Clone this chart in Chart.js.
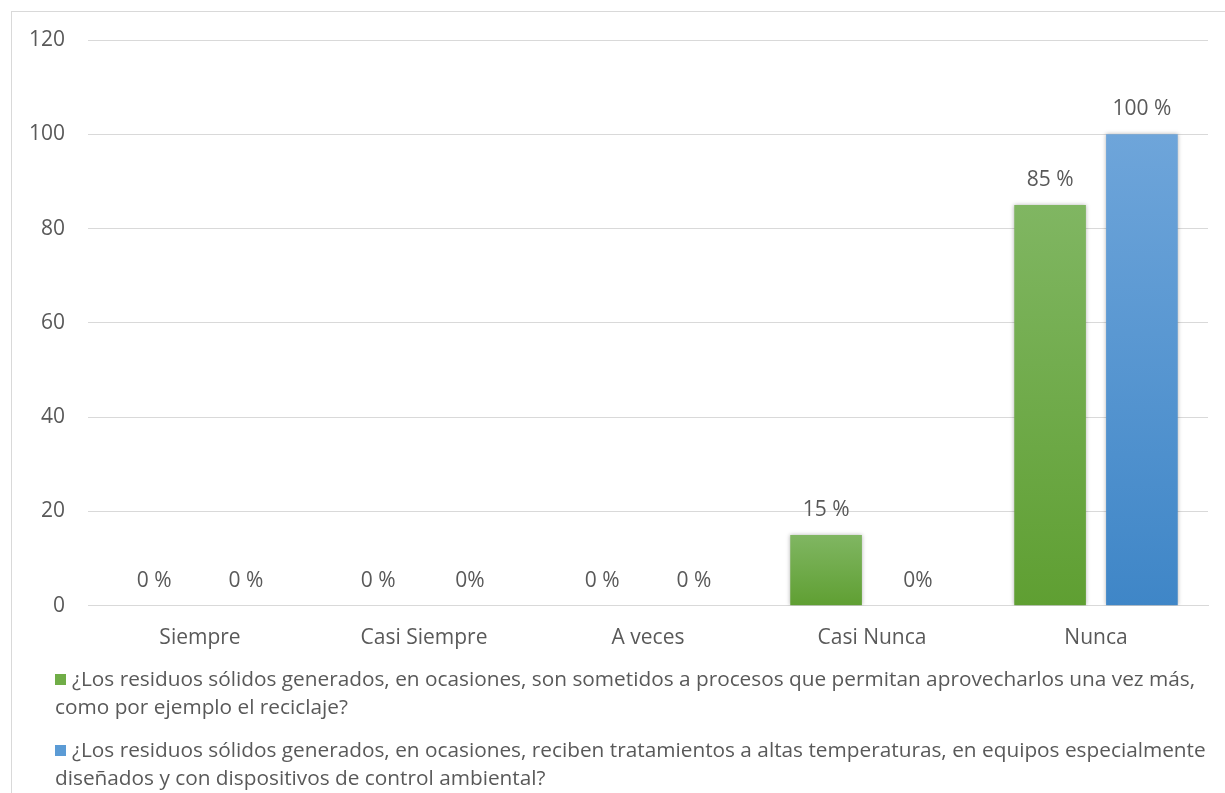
<!DOCTYPE html>
<html>
<head>
<meta charset="utf-8">
<script src="https://cdn.jsdelivr.net/npm/chart.js@4/dist/chart.umd.min.js"></script>
<style>
  html, body { margin: 0; padding: 0; background: #fff; overflow: hidden; }
  #wrap { position: relative; width: 1225px; height: 793px; }
  #frame { position: absolute; left: 11px; top: 11px; width: 1240px; height: 800px; border: 1px solid #d9d9d9; box-sizing: border-box; }
  canvas { position: absolute; left: 0; top: 0; }
  #legend { position: absolute; left: 55px; top: 664px; font-family: "Open Sans", sans-serif; font-size: 20.8px; color: #595959; }
  #legend p { margin: 0 0 15px 0; line-height: 28px; white-space: nowrap; }
  #legend span.box { display: inline-block; width: 11px; height: 11px; margin-right: 6px; vertical-align: 1px; }
</style>
</head>
<body>
<div id="wrap">
  <div id="frame"></div>
  <canvas id="barCanvas" width="1225" height="793"></canvas>
  <div id="legend"></div>
</div>
<script>
// données
const categories = ["Siempre", "Casi Siempre", "A veces", "Casi Nunca", "Nunca"];
const serieReciclaje = [0, 0, 0, 15, 85];
const serieTratamiento = [0, 0, 0, 0, 100];
const etiquetasReciclaje = ["0 %", "0 %", "0 %", "15 %", "85 %"];
const etiquetasTratamiento = ["0 %", "0%", "0 %", "0%", "100 %"];
const nomsSeries = [
    ["¿Los residuos sólidos generados, en ocasiones, son sometidos a procesos que permitan aprovecharlos una vez más,", "como por ejemplo el reciclaje?"],
    ["¿Los residuos sólidos generados, en ocasiones, reciben tratamientos a altas temperaturas, en equipos especialmente", "diseñados y con dispositivos de control ambiental?"]
];
const yTicks = [0, 20, 40, 60, 80, 100, 120];

const textColor = "#595959";
const police = "'Open Sans', sans-serif";

// dégradé vertical pour chaque barre
function degrade(haut, bas) {
    return function(context) {
        const chart = context.chart;
        const y = chart.scales.y;
        if (!y || context.raw === undefined) return bas;
        const top = y.getPixelForValue(context.raw);
        const base = y.getPixelForValue(0);
        if (!isFinite(top) || !isFinite(base) || base - top < 1) return bas;
        const g = chart.ctx.createLinearGradient(0, top, 0, base);
        g.addColorStop(0, haut);
        g.addColorStop(1, bas);
        return g;
    };
}

// ombre légère sous les barres
const ombre = {
    id: "ombre",
    beforeDatasetsDraw(chart) {
        const ctx = chart.ctx;
        ctx.save();
        ctx.shadowColor = "rgba(0,0,0,0.3)";
        ctx.shadowBlur = 4;
    },
    afterDatasetsDraw(chart) {
        chart.ctx.restore();
    }
};

// étiquettes au-dessus des barres
const etiquettes = {
    id: "etiquettes",
    afterDatasetsDraw(chart) {
        const ctx = chart.ctx;
        ctx.save();
        ctx.font = "21px " + police;
        ctx.fillStyle = textColor;
        ctx.textAlign = "center";
        ctx.textBaseline = "middle";
        chart.data.datasets.forEach((ds, i) => {
            const meta = chart.getDatasetMeta(i);
            meta.data.forEach((bar, j) => {
                ctx.fillText(ds.etiquettes[j], bar.x, bar.y - 25);
            });
        });
        ctx.restore();
    }
};

const barChart = new Chart(document.getElementById("barCanvas"), {
    type: "bar",
    data: {
        labels: categories,
        datasets: [{
            label: nomsSeries[0].join(" "),
            data: serieReciclaje,
            etiquettes: etiquetasReciclaje,
            backgroundColor: degrade("#80b662", "#5f9f32"),
            borderWidth: 0
        }, {
            label: nomsSeries[1].join(" "),
            data: serieTratamiento,
            etiquettes: etiquetasTratamiento,
            backgroundColor: degrade("#6ea5da", "#3f86c7"),
            borderWidth: 0
        }]
    },
    options: {
        responsive: false,
        animation: false,
        categoryPercentage: 0.82,
        barPercentage: 0.78,
        layout: { padding: { left: 0, right: 17, top: 40, bottom: 130 } },
        plugins: {
            legend: { display: false },
            tooltip: { enabled: false }
        },
        scales: {
            x: {
                grid: { display: false },
                border: { display: true, color: "#d9d9d9", width: 1 },
                ticks: {
                    color: textColor,
                    font: { family: police, size: 21 },
                    padding: 12
                }
            },
            y: {
                min: 0,
                max: 120,
                afterFit(scale) { scale.width = 88; },
                afterBuildTicks(scale) { scale.ticks = yTicks.map(v => ({ value: v })); },
                grid: { color: "#d9d9d9", lineWidth: 1, drawTicks: false },
                border: { display: false },
                ticks: {
                    color: textColor,
                    font: { family: police, size: 21 },
                    padding: 23
                }
            }
        }
    },
    plugins: [ombre, etiquettes]
});

// légende HTML (texte sur deux lignes comme l'original)
const couleurs = ["#70ad47", "#5b9bd5"];
const legende = document.getElementById("legend");
nomsSeries.forEach((lignes, i) => {
    const p = document.createElement("p");
    const box = document.createElement("span");
    box.className = "box";
    box.style.background = couleurs[i];
    p.appendChild(box);
    p.appendChild(document.createTextNode(lignes[0]));
    p.appendChild(document.createElement("br"));
    p.appendChild(document.createTextNode(lignes[1]));
    legende.appendChild(p);
});
</script>
</body>
</html>
